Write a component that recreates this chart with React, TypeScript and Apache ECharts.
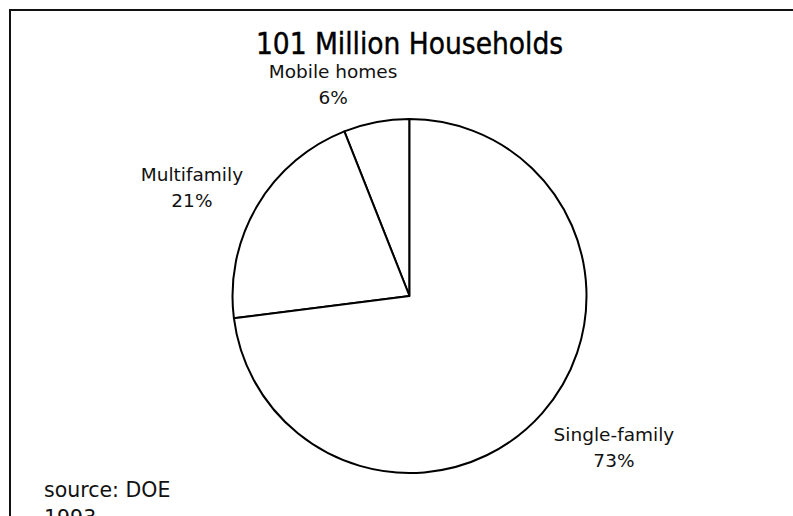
import React, { useEffect, useRef } from "react";
import * as echarts from "echarts";

const categories = ["Mobile homes", "Multifamily", "Single-family"];
const shares = [6, 21, 73];
const titleText = "101 Million Households";
const sourceLines = ["source: DOE", "1993"];

// per-slice label offsets (style only)
const labelLen = [38.8, 37.1, 51.4];
const labelLen2 = [31, 28.3, 28.1];

export default function App() {
  const ref = useRef<HTMLDivElement>(null);
  useEffect(() => {
    if (!ref.current) return;
    const chart = echarts.init(ref.current, undefined, { renderer: "svg" });
    const font = "'DejaVu Sans', sans-serif";
    chart.setOption({
      animation: false,
      backgroundColor: "#ffffff",
      title: {
        text: titleText,
        left: 404.5,
        textAlign: "center",
        top: 24,
        textStyle: {
          fontFamily: "'DejaVu Sans Condensed', 'DejaVu Sans', sans-serif",
          fontSize: 29.5,
          fontWeight: "normal",
          color: "#000",
          textBorderColor: "#000",
          textBorderWidth: 0.4,
        },
      },
      graphic: [
        {
          type: "rect",
          shape: { x: 10, y: 10, width: 820, height: 540 },
          style: { fill: "none", stroke: "#111", lineWidth: 2 },
          silent: true,
        },
        {
          type: "text",
          x: 44,
          y: 476,
          style: {
            text: sourceLines.join("\n"),
            fontFamily: font,
            fontSize: 20.5,
            lineHeight: 28,
            fill: "#111",
            textAlign: "left",
            textVerticalAlign: "top",
          },
        },
      ],
      series: [
        {
          type: "pie",
          center: [409.5, 296],
          radius: 177,
          startAngle: 90,
          clockwise: false,
          avoidLabelOverlap: false,
          itemStyle: { color: "#ffffff", borderColor: "#000", borderWidth: 2 },
          emphasis: { disabled: true },
          label: {
            show: true,
            position: "outside",
            formatter: "{b}\n{d}%",
            fontFamily: font,
            fontSize: 18.5,
            lineHeight: 26,
            color: "#111",
            align: "center",
          },
          labelLine: { show: false },
          labelLayout: () => ({ align: "center", verticalAlign: "middle" }),
          data: categories.map((name, i) => ({
            name,
            value: shares[i],
            labelLine: { show: false, length: labelLen[i], length2: labelLen2[i] },
          })),
        },
      ],
    });
    return () => chart.dispose();
  }, []);
  return (
    <div
      ref={ref}
      style={{ position: "fixed", left: 0, top: 0, width: 793, height: 516, background: "#fff" }}
    />
  );
}
